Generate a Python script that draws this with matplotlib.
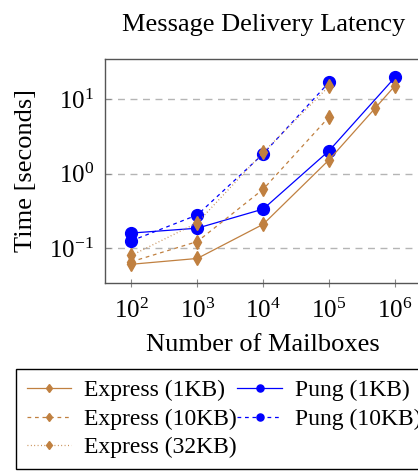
import matplotlib
matplotlib.use("Agg")
import matplotlib.pyplot as plt

plt.rcParams['font.family'] = ['Liberation Serif', 'DejaVu Serif']
plt.rcParams['mathtext.fontset'] = 'custom'
plt.rcParams['mathtext.rm'] = 'Liberation Serif'
plt.rcParams['mathtext.it'] = 'Liberation Serif:italic'
plt.rcParams['mathtext.bf'] = 'Liberation Serif:bold'

# Data
x_main = [1e2, 1e3, 1e4, 1e5]
x_express1 = [1e2, 1e3, 1e4, 1e5, 5e5, 1e6]
x_pung1 = [1e2, 1e3, 1e4, 1e5, 1e6]

express_1kb = [0.061, 0.073, 0.21, 1.54, 7.6, 15.2]
express_10kb = [0.066, 0.123, 0.62, 5.8]
express_32kb = [0.08, 0.22, 1.93, 15.0]
pung_1kb = [0.16, 0.186, 0.336, 2.04, 19.7]
pung_10kb = [0.126, 0.28, 1.85, 16.9]

brown = '#c08040'
blue = '#0000ff'

W, H = 418, 472
fig = plt.figure(figsize=(W / 100, H / 100), dpi=100)
ax = fig.add_axes([105 / W, 1 - 283 / H, (421.4 - 105) / W, (283 - 59) / H])

ax.set_xscale('log')
ax.set_yscale('log')
ax.set_xlim(10 ** 1.6, 10 ** 6.4)
ax.set_ylim(10 ** -1.466, 10 ** 1.54)

hp1, = ax.plot(x_pung1, pung_1kb, color=blue, lw=0.9, marker='o', ms=8.5,
               label='Pung (1KB)', zorder=3)
hp10, = ax.plot(x_main, pung_10kb, color=blue, lw=0.9, marker='o', ms=8.5,
                dashes=(3, 3), label='Pung (10KB)', zorder=3)
he1, = ax.plot(x_express1, express_1kb, color=brown, lw=0.9, marker='d', ms=7.5,
               label='Express (1KB)', zorder=4)
he10, = ax.plot(x_main, express_10kb, color=brown, lw=0.9, marker='d', ms=7.5,
                dashes=(3, 3), label='Express (10KB)', zorder=4)
he32, = ax.plot(x_main, express_32kb, color=brown, lw=0.9, marker='d', ms=7.5,
                dashes=(0.7, 2), label='Express (32KB)', zorder=4)

ax.set_xticks([1e2, 1e3, 1e4, 1e5, 1e6])
ax.set_yticks([1e-1, 1e0, 1e1])
ax.minorticks_off()
ax.tick_params(axis='both', which='major', labelsize=18, color='#888888')
ax.tick_params(axis='x', direction='inout', length=6, pad=8)
ax.tick_params(axis='y', direction='in', length=4, pad=8)
ax.grid(True, axis='y', color='#b5b5b5', lw=1.0, dashes=(5, 4))
ax.set_axisbelow(True)
for s in ax.spines.values():
    s.set_color('#555555')
    s.set_linewidth(1.0)

ax.set_title('Message Delivery Latency', fontsize=19, pad=20)
ax.set_xlabel('Number of Mailboxes', fontsize=19, labelpad=8)
ax.set_ylabel('Time [seconds]', fontsize=19, labelpad=9)

handles = [he1, he10, he32, hp1, hp10]
leg = fig.legend(handles=handles, labels=[h.get_label() for h in handles],
                 ncol=2, loc='upper left', bbox_to_anchor=(16 / W, 1 - 369 / H),
                 fontsize=17, frameon=True, fancybox=False, edgecolor='black',
                 framealpha=1, handlelength=1.9, handletextpad=0.55,
                 columnspacing=0.0, labelspacing=0.3, borderpad=0.45,
                 borderaxespad=0, markerscale=0.6)
leg.get_frame().set_linewidth(1.0)

fig.savefig('out.png', dpi=100)
